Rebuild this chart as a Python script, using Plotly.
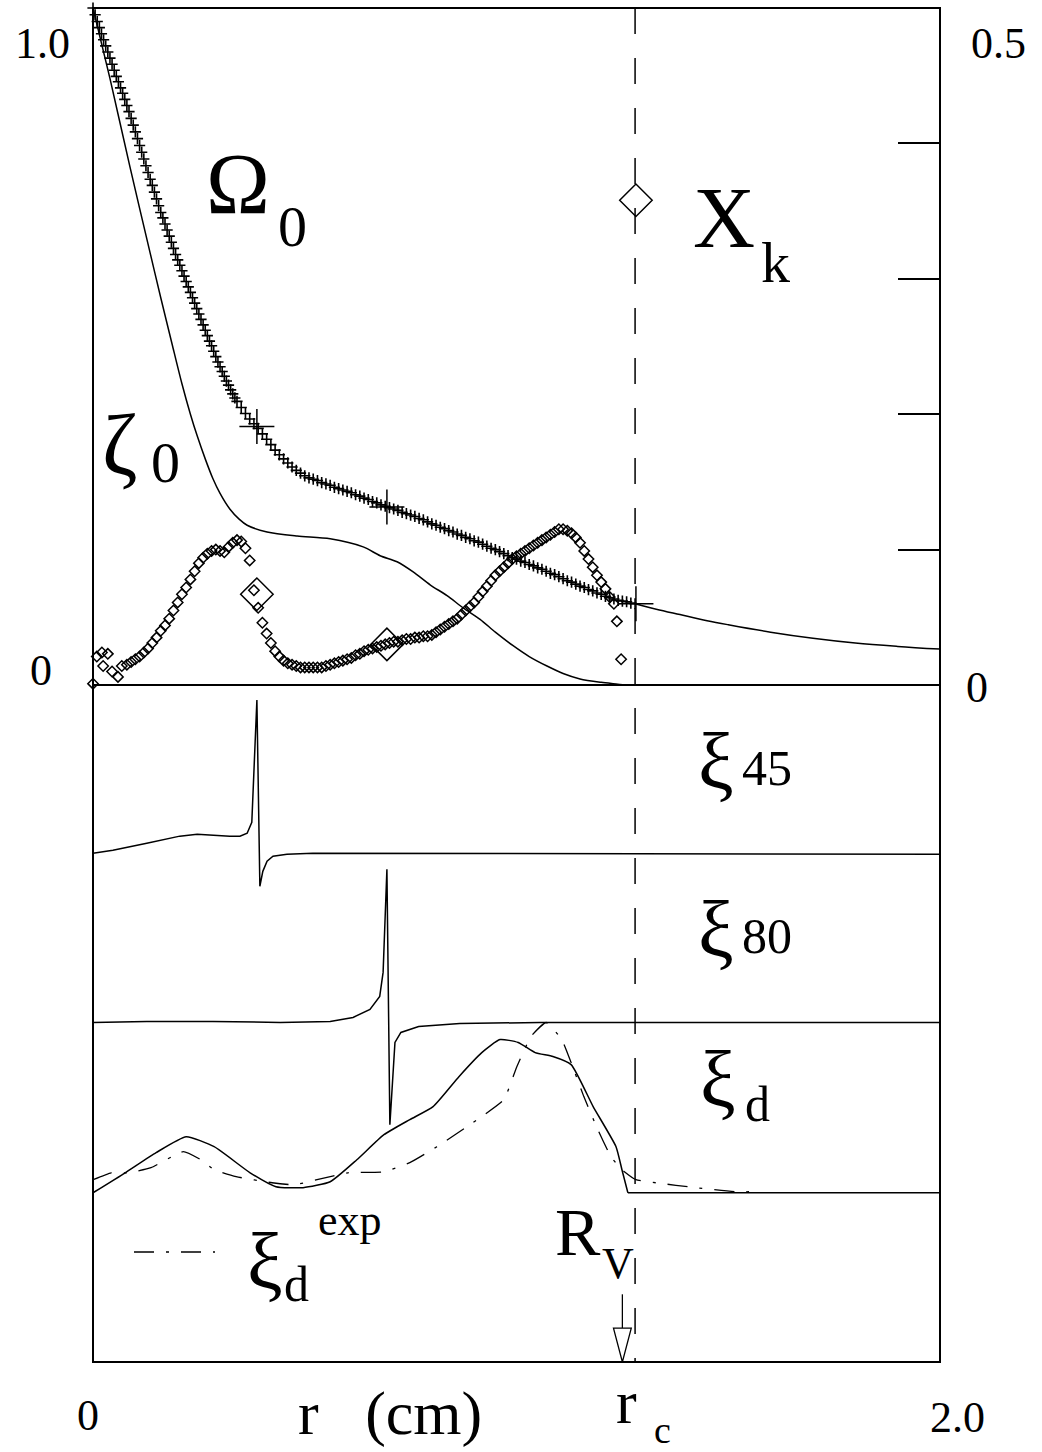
import plotly.graph_objects as go

# ---------------- data ----------------
R_C = 1.28          # dashed line position r_c
R_V = 1.25          # arrow position R_V

# Omega_0 (left axis, 0..1), "+" markers up to r_c
omega_r = [round(i * 0.005, 3) for i in range(68)] + [round(0.34 + i * 0.01, 2) for i in range(95)]
omega_v = [1.000, 0.990, 0.980, 0.971, 0.962, 0.953, 0.944, 0.935, 0.926, 0.917,
           0.908, 0.899, 0.891, 0.882, 0.874, 0.865, 0.856, 0.847, 0.837, 0.827,
           0.817, 0.807, 0.797, 0.787, 0.777, 0.767, 0.757, 0.747, 0.738, 0.728,
           0.718, 0.708, 0.698, 0.690, 0.681, 0.672, 0.663, 0.654, 0.645, 0.636,
           0.628, 0.620, 0.612, 0.604, 0.596, 0.588, 0.580, 0.572, 0.564, 0.556,
           0.548, 0.540, 0.532, 0.524, 0.516, 0.508, 0.501, 0.493, 0.485, 0.477,
           0.470, 0.463, 0.456, 0.449, 0.443, 0.436, 0.430, 0.424,
           0.419, 0.410, 0.401, 0.393, 0.386, 0.379,
           0.371, 0.363, 0.355, 0.347, 0.340, 0.334, 0.328, 0.322, 0.317, 0.313,
           0.309, 0.306, 0.304, 0.302, 0.299, 0.297, 0.295, 0.292, 0.290, 0.288,
           0.286, 0.284, 0.281, 0.279, 0.276, 0.274, 0.271, 0.269, 0.266, 0.264,
           0.262, 0.260, 0.258, 0.255, 0.253, 0.251, 0.249, 0.246, 0.244, 0.241,
           0.238, 0.236, 0.233, 0.231, 0.228, 0.226, 0.223, 0.221, 0.218, 0.216,
           0.213, 0.211, 0.208, 0.205, 0.202, 0.200, 0.197, 0.194, 0.191, 0.188,
           0.186, 0.183, 0.181, 0.178, 0.176, 0.173, 0.171, 0.168, 0.165, 0.163,
           0.160, 0.157, 0.154, 0.152, 0.149, 0.146, 0.144, 0.141, 0.139, 0.136,
           0.134, 0.131, 0.129, 0.127, 0.125, 0.124, 0.123, 0.121, 0.120]
# Omega_0 beyond r_c (solid line)
omega_tail_r = [1.28, 1.33, 1.386, 1.45, 1.50, 1.60, 1.70, 1.80, 1.90, 2.00]
omega_tail_v = [0.120, 0.112, 0.104, 0.095, 0.089, 0.078, 0.069, 0.062, 0.057, 0.053]
# big "+" marks on Omega_0
omega_big_r = [0.387, 0.694, 1.282]
omega_big_v = [0.382, 0.263, 0.120]

# zeta_0 (left axis)
zeta_r = [0.0, 0.04, 0.087, 0.135, 0.16, 0.187, 0.21, 0.23, 0.246, 0.265, 0.283, 0.30,
          0.323, 0.345, 0.364, 0.411, 0.482, 0.56, 0.638, 0.678, 0.718, 0.756, 0.796,
          0.836, 0.874, 0.914, 0.95, 0.992, 1.03, 1.072, 1.11, 1.15, 1.20, 1.228, 1.26, 1.282]
zeta_v = [1.0, 0.896, 0.766, 0.638, 0.572, 0.503, 0.445, 0.400, 0.368, 0.334, 0.305, 0.283,
          0.260, 0.245, 0.236, 0.226, 0.220, 0.216, 0.204, 0.191, 0.182, 0.167, 0.148,
          0.132, 0.114, 0.097, 0.078, 0.058, 0.042, 0.028, 0.017, 0.009, 0.004, 0.002, 0.0, 0.0]

# X_k (right axis, 0..0.5), diamond markers
xk_r = ([0.000, 0.009, 0.021, 0.024, 0.035, 0.045, 0.059, 0.068]
        + [round(0.08 + i * 0.01, 2) for i in range(116)]
        + [1.237, 1.247])
xk_v = [0.001, 0.021, 0.024, 0.014, 0.023, 0.010, 0.006, 0.014,
        0.015, 0.017, 0.019, 0.021, 0.024, 0.027, 0.031, 0.035, 0.040, 0.044,
        0.049, 0.055, 0.061, 0.067, 0.072, 0.078, 0.084, 0.090, 0.094, 0.097,
        0.099, 0.100, 0.099, 0.098, 0.102, 0.105, 0.107, 0.106, 0.101, 0.092,
        0.070, 0.057, 0.046, 0.038, 0.031, 0.025, 0.021, 0.018, 0.016, 0.015,
        0.014, 0.013, 0.013, 0.013, 0.013, 0.013, 0.013, 0.014, 0.015, 0.016,
        0.017, 0.018, 0.019, 0.020, 0.022, 0.023, 0.025, 0.026, 0.027, 0.028,
        0.029, 0.030, 0.031, 0.032, 0.032, 0.033, 0.034, 0.034, 0.035, 0.035,
        0.036, 0.036, 0.037, 0.039, 0.041, 0.043, 0.045, 0.047, 0.049, 0.052,
        0.055, 0.058, 0.061, 0.065, 0.069, 0.073, 0.077, 0.081, 0.084, 0.087,
        0.090, 0.093, 0.095, 0.097, 0.099, 0.101, 0.103, 0.105, 0.107, 0.109,
        0.111, 0.113, 0.115, 0.115, 0.114, 0.112, 0.109, 0.105, 0.099, 0.093,
        0.087, 0.081, 0.076, 0.071, 0.065, 0.060,
        0.047, 0.019]
# big diamonds
xk_big_r = [0.387, 0.694, 1.282]
xk_big_v = [0.067, 0.030, 0.358]

# bottom panel: offset eigenfunctions (lanes 0..4)
xi45_r = [0.0, 0.047, 0.127, 0.205, 0.246, 0.283, 0.323, 0.347, 0.364, 0.375, 0.378,
          0.382, 0.387, 0.394, 0.401, 0.411, 0.425, 0.458, 0.519, 2.0]
xi45_v = [3.006, 3.024, 3.065, 3.107, 3.118, 3.112, 3.107, 3.107, 3.124, 3.189, 3.385,
          3.680, 3.911, 2.811, 2.899, 2.959, 2.988, 3.0, 3.006, 3.0]

xi80_r = [0.0, 0.127, 0.283, 0.442, 0.560, 0.614, 0.654, 0.677, 0.685, 0.689, 0.694,
          0.701, 0.713, 0.727, 0.769, 0.866, 1.055, 2.0]
xi80_v = [2.006, 2.012, 2.012, 2.006, 2.012, 2.036, 2.083, 2.160, 2.302, 2.598, 2.911,
          1.402, 1.888, 1.947, 1.982, 2.0, 2.006, 2.006]

xid_r = [0.0, 0.076, 0.149, 0.220, 0.286, 0.371, 0.432, 0.496, 0.560, 0.623, 0.687,
         0.748, 0.803, 0.864, 0.918, 0.961, 1.004, 1.044, 1.086, 1.129, 1.181, 1.235,
         1.249, 1.263, 2.0]
xid_v = [1.0, 1.118, 1.237, 1.331, 1.272, 1.118, 1.036, 1.030, 1.065, 1.195, 1.343,
         1.432, 1.509, 1.686, 1.828, 1.905, 1.888, 1.828, 1.805, 1.757, 1.509, 1.272,
         1.136, 1.0, 1.0]

xiexp_r = [0.0, 0.043, 0.085, 0.137, 0.213, 0.255, 0.286, 0.338, 0.423, 0.475, 0.529,
           0.602, 0.687, 0.748, 0.812, 0.897, 0.970, 1.001, 1.034, 1.070, 1.107, 1.129,
           1.159, 1.192, 1.223, 1.249, 1.282, 1.329, 1.423, 1.518, 1.561]
xiexp_v = [1.077, 1.118, 1.118, 1.148, 1.243, 1.195, 1.136, 1.095, 1.059, 1.047, 1.077,
           1.118, 1.124, 1.178, 1.272, 1.414, 1.550, 1.746, 1.923, 2.006, 1.905, 1.769,
           1.568, 1.373, 1.213, 1.136, 1.077, 1.059, 1.030, 1.006, 1.006]

right_ticks = [0.1, 0.2, 0.3, 0.4]

# ---------------- figure ----------------
W, H = 1042, 1452
ML, MR, MT, MB = 93, 102, 8, 90
PW, PH = W - ML - MR, H - MT - MB
FONT = "Liberation Serif"
LW = 1.5

fig = go.Figure()

fig.add_trace(go.Scatter(x=zeta_r, y=zeta_v, mode="lines", line=dict(color="black", width=LW, shape="spline", smoothing=0.8),
                         xaxis="x", yaxis="y", showlegend=False))
fig.add_trace(go.Scatter(x=omega_tail_r, y=omega_tail_v, mode="lines", line=dict(color="black", width=LW, shape="spline"),
                         xaxis="x", yaxis="y", showlegend=False))
fig.add_trace(go.Scatter(x=omega_r, y=omega_v, mode="markers",
                         marker=dict(symbol="cross-thin", size=8, line=dict(color="black", width=1.6)),
                         xaxis="x", yaxis="y", showlegend=False, cliponaxis=False))
fig.add_trace(go.Scatter(x=omega_big_r, y=omega_big_v, mode="markers",
                         marker=dict(symbol="cross-thin", size=25, line=dict(color="black", width=1.5)),
                         xaxis="x", yaxis="y", showlegend=False, cliponaxis=False))
fig.add_trace(go.Scatter(x=xk_r, y=xk_v, mode="markers",
                         marker=dict(symbol="diamond-open", size=8, color="black", line=dict(color="black", width=1.5)),
                         xaxis="x", yaxis="y2", showlegend=False, cliponaxis=False))
fig.add_trace(go.Scatter(x=xk_big_r, y=xk_big_v, mode="markers",
                         marker=dict(symbol="diamond-open", size=25, color="black", line=dict(color="black", width=1.5)),
                         xaxis="x", yaxis="y2", showlegend=False, cliponaxis=False))

fig.add_trace(go.Scatter(x=xi45_r, y=xi45_v, mode="lines", line=dict(color="black", width=LW),
                         xaxis="x", yaxis="y3", showlegend=False))
fig.add_trace(go.Scatter(x=xi80_r, y=xi80_v, mode="lines", line=dict(color="black", width=LW),
                         xaxis="x", yaxis="y3", showlegend=False))
# xi_d: smooth part up to the drop, straight baseline afterwards
fig.add_trace(go.Scatter(x=xid_r[:-1], y=xid_v[:-1], mode="lines",
                         line=dict(color="black", width=LW, shape="spline", smoothing=0.5),
                         xaxis="x", yaxis="y3", showlegend=False))
fig.add_trace(go.Scatter(x=xid_r[-2:], y=xid_v[-2:], mode="lines", line=dict(color="black", width=LW),
                         xaxis="x", yaxis="y3", showlegend=False))
fig.add_trace(go.Scatter(x=xiexp_r, y=xiexp_v, mode="lines",
                         line=dict(color="black", width=1.3, dash="20px,12px,3px,12px", shape="spline", smoothing=0.4),
                         xaxis="x", yaxis="y3", showlegend=False))

def P(px, py):
    return (px - ML) / PW, (H - MB - py) / PH

annotations = []
def txt(t, px, py, size):
    x, y = P(px, py)
    annotations.append(dict(text=t, x=x, y=y, xref="paper", yref="paper", showarrow=False,
                            xanchor="center", yanchor="middle",
                            font=dict(family=FONT, size=size, color="black")))

# axis labels
txt("1.0", 42, 44, 44)
txt("0", 41, 670, 44)
txt("0.5", 998, 44, 44)
txt("0", 977, 687, 44)
txt("0", 88, 1416, 44)
txt("2.0", 957, 1417, 44)
txt("r   (cm)", 390, 1413, 62)
txt("r", 626, 1402, 62)
txt("c", 662, 1430, 38)

# curve labels
txt("Ω", 238, 184, 86)
txt("0", 292, 226, 58)
txt("X", 724, 218, 86)
txt("k", 775, 262, 58)
txt("ζ", 120, 445, 86)
txt("0", 165, 462, 58)
txt("ξ", 716, 762, 80)
txt("45", 767, 768, 50)
txt("ξ", 716, 930, 80)
txt("80", 767, 936, 50)
txt("ξ", 718, 1080, 80)
txt("d", 757, 1104, 50)
txt("ξ", 265, 1262, 80)
txt("d", 296, 1284, 50)
txt("exp", 350, 1220, 44)
txt("R", 578, 1232, 68)
txt("V", 618, 1263, 44)

shapes = []
# frame
shapes.append(dict(type="rect", xref="paper", yref="paper", x0=0, x1=1, y0=0, y1=1,
                   line=dict(color="black", width=2)))
shapes.append(dict(type="line", xref="paper", yref="paper", x0=0, x1=1, y0=0.5, y1=0.5,
                   line=dict(color="black", width=2)))
# r_c dashed line
shapes.append(dict(type="line", xref="x", yref="paper", x0=R_C, x1=R_C, y0=1, y1=0,
                   line=dict(color="black", width=1.5, dash="26px,24px")))
# legend sample for xi_d^exp
lx0, ly = P(134, 1252)
lx1, _ = P(215, 1252)
shapes.append(dict(type="line", xref="paper", yref="paper", x0=lx0, x1=lx1, y0=ly, y1=ly,
                   line=dict(color="black", width=1.3, dash="20px,12px,3px,12px")))
# R_V arrow (line + open triangle head)
shapes.append(dict(type="line", xref="x", yref="y3", x0=R_V, x1=R_V, y0=0.40, y1=0.20,
                   line=dict(color="black", width=1.3)))
shapes.append(dict(type="path", xref="x", yref="y3",
                   path=f"M {R_V - 0.021} 0.20 L {R_V + 0.021} 0.20 L {R_V} 0 Z",
                   line=dict(color="black", width=1.3), fillcolor="white"))

fig.update_layout(
    width=W, height=H,
    margin=dict(l=ML, r=MR, t=MT, b=MB),
    paper_bgcolor="white", plot_bgcolor="white",
    showlegend=False,
    xaxis=dict(domain=[0, 1], range=[0, 2], anchor="y3", showgrid=False, zeroline=False,
               showticklabels=False, ticks=""),
    yaxis=dict(domain=[0.5, 1], range=[0, 1], anchor="x", showgrid=False, zeroline=False,
               showticklabels=False, ticks=""),
    yaxis2=dict(range=[0, 0.5], overlaying="y", side="right", anchor="x", showgrid=False,
                zeroline=False, showticklabels=False, ticks="inside", ticklen=42, tickwidth=1.5,
                tickcolor="black", tickvals=right_ticks),
    yaxis3=dict(domain=[0, 0.5], range=[0, 4], anchor="x", showgrid=False, zeroline=False,
                showticklabels=False, ticks=""),
    annotations=annotations,
    shapes=shapes,
)

fig.write_html("out.html")
